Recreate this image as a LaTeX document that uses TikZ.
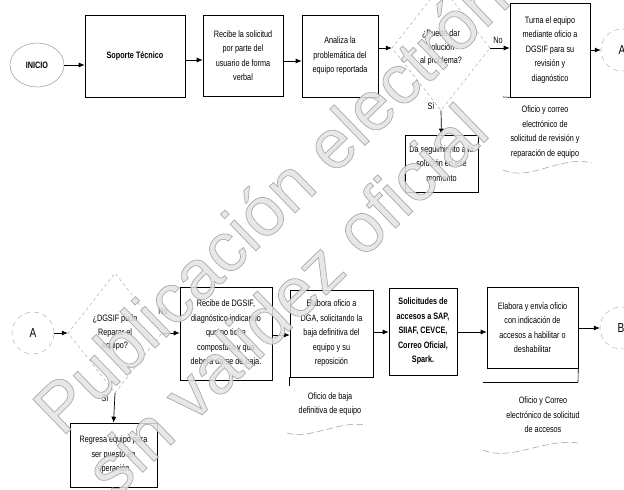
\documentclass[tikz,border=0pt]{standalone}
\usepackage{fontspec}
\setmainfont[FakeStretch=0.78]{Liberation Sans}
\newfontfamily\wmfont{Liberation Sans}
\usetikzlibrary{shapes.geometric,arrows.meta}
\newcommand{\wmoutline}[1]{\special{pdf:literal direct 2 Tr 0.7 w 0.62 0.62 0.62 RG}#1\special{pdf:literal direct 0 Tr}}
\begin{document}
\begin{tikzpicture}[x=1pt,y=-1pt,
  every node/.style={font=\fontsize{9.3}{14.5}\selectfont, align=center, inner sep=0pt},
  box/.style={draw, line width=0.6pt},
  dia/.style={shape=diamond, draw=gray!75, dashed, line width=0.4pt, font=\fontsize{9.3}{13.5}\selectfont},
  conn/.style={shape=circle, draw=gray!70, dash pattern=on 5pt off 4pt, line width=0.4pt, minimum size=42pt, font=\fontsize{13}{13}\selectfont},
  arr/.style={-{Latex[length=6pt,width=5pt]}, line width=0.7pt},
  wave/.style={draw=gray!80, dash pattern=on 7pt off 3pt, line width=0.5pt},
  lbl/.style={font=\fontsize{9.3}{11}\selectfont},
  wm/.style={rotate=44, anchor=base west, inner sep=0pt, align=left, text=gray!22, text opacity=0.85}
]
\useasboundingbox (0,0) rectangle (624,490);

% ---------- row 1 ----------
\node[shape=ellipse, draw=gray!80, line width=0.5pt, minimum width=54pt, minimum height=44pt, font=\bfseries\fontsize{9.3}{11}\selectfont] (inicio) at (37,65) {INICIO};
\node[box, minimum width=100pt, minimum height=82pt, font=\bfseries\fontsize{9.3}{14.5}\selectfont] (soporte) at (135,56) {Soporte Técnico};
\node[box, minimum width=80pt, minimum height=81pt] (recibe) at (243,55.5) {Recibe la solicitud\\por parte del\\usuario de forma\\verbal};
\node[box, minimum width=76pt, minimum height=82pt] (analiza) at (340,56) {Analiza la\\problemática del\\equipo reportada};
\node[dia, minimum width=98pt, minimum height=125pt] (d1) at (441,48) {¿Puede dar\\solución\\al problema?};
\node[box, minimum width=80pt, minimum height=94pt] (turna) at (550,50) {Turna el equipo\\mediante oficio a\\DGSIF para su\\revisión y\\diagnóstico};
\node[conn] (a1) at (622,50) {A};
\node (doc1) at (545,132) {Oficio y correo\\electrónico de\\solicitud de revisión y\\reparación de equipo};
\node[box, minimum width=73pt, minimum height=57pt] (seg) at (441.5,163.5) {Da seguimiento a la\\solución en ese\\momento};
\node[lbl] (no1) at (498,40) {No};
\node[lbl] (si1) at (431,106) {Sí};

\draw[arr] (inicio.east) -- (inicio.east -| soporte.west);
\draw[arr] (soporte.east |- 0,60) -- (recibe.west |- 0,60);
\draw[arr] (recibe.east |- 0,61) -- (analiza.west |- 0,61);
\draw[arr] (analiza.east |- d1.west) -- (d1.west);
\draw[arr] (d1.east) -- (d1.east -| turna.west);
\draw[arr] (turna.east) -- (a1.west);
\draw[arr] (d1.south) -- (seg.north);

\draw[line width=0.6pt] (503,97) -- (turna.south west);
\draw[wave] (503,170) .. controls (530,182) and (560,155) .. (592,163);

% ---------- row 2 ----------
\node[conn] (a2) at (33,333) {A};
\node[dia, minimum width=94pt, minimum height=120pt] (d2) at (115,333) {¿DGSIF pudo\\Reparar el\\equipo?};
\node[box, minimum width=92pt, minimum height=93pt] (recibeD) at (226,333.5) {Recibe de DGSIF,\\diagnóstico indicando\\que no tiene\\compostura y que\\deberá darse de baja.};
\node[box, minimum width=83pt, minimum height=87pt] (elaboraO) at (331.5,333.5) {Elabora oficio a\\DGA, solicitando la\\baja definitiva del\\equipo y su\\reposición};
\node[box, minimum width=68pt, minimum height=87pt, font=\bfseries\fontsize{9.3}{14.5}\selectfont] (solic) at (423,331.5) {Solicitudes de\\accesos a SAP,\\SIIAF, CEVCE,\\Correo Oficial,\\Spark.};
\node[box, minimum width=91pt, minimum height=81pt] (elaboraE) at (532.5,327.5) {Elabora y envía oficio\\con indicación de\\accesos a habilitar o\\deshabilitar};
\node[conn] (b) at (621,328) {B};
\node[box, minimum width=87pt, minimum height=64pt] (regresa) at (113.5,455) {Regresa equipo para\\ser puesto en\\operación};
\node (doc2) at (330,404) {Oficio de baja\\definitiva de equipo};
\node (doc3) at (543,415) {Oficio y Correo\\electrónico de solicitud\\de accesos};
\node[lbl] (no2) at (163,311) {No};
\node[lbl] (si2) at (105,398) {Sí};

\draw[arr] (a2.east) -- (d2.west);
\draw[arr] (d2.east) -- (d2.east -| recibeD.west);
\draw[arr] (recibeD.east |- 0,335) -- (elaboraO.west |- 0,335);
\draw[arr] (elaboraO.east |- 0,332) -- (solic.west |- 0,332);
\draw[arr] (solic.east |- 0,332) -- (elaboraE.west |- 0,332);
\draw[arr] (elaboraE.east |- b.west) -- (b.west);
\draw[arr] (d2.south) -- (regresa.north);

\draw[line width=0.6pt] (elaboraO.south west) -- ++(0,9);
\draw[wave] (287,433) .. controls (310,440) and (340,420) .. (366,425);
\draw[line width=0.6pt] (483,382) -- (578,382);
\draw[line width=0.6pt] (elaboraE.south east) -- (578,382);
\draw[wave] (483,450) .. controls (510,462) and (545,438) .. (578,443);

% ---------- watermark ----------
\node[wm, font=\wmfont\fontsize{70}{70}\selectfont] (wmA) at (62,438) {\wmoutline{Publicación electrónica}};
\node[wm, font=\wmfont\fontsize{70}{70}\selectfont] (wmB) at (114,500) {\wmoutline{sin validez oficial}};
\end{tikzpicture}
\end{document}
